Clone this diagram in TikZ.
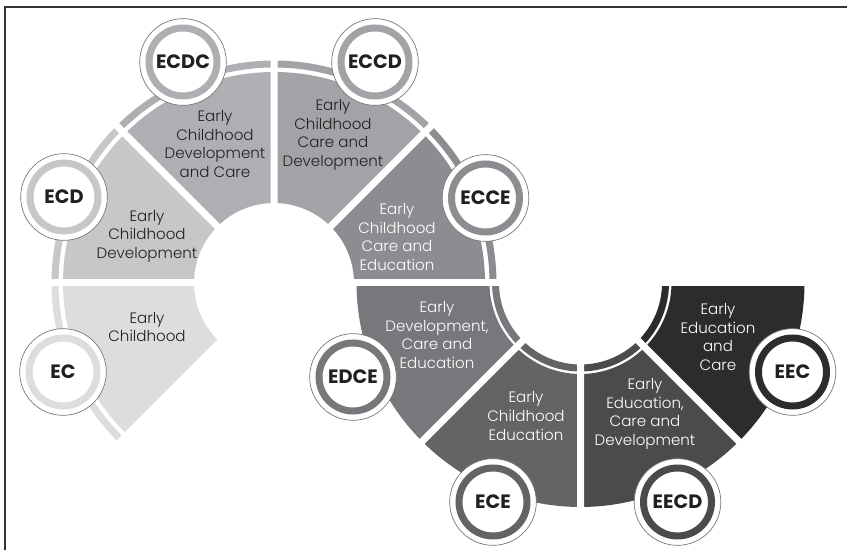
\documentclass[tikz,border=0pt]{standalone}
\usepackage{fontspec}
\setmainfont{Poppins}
\newfontfamily\lightfont{Poppins Light}
\definecolor{cEC}{HTML}{DCDDDF}
\definecolor{cECD}{HTML}{C6C7C9}
\definecolor{cECDC}{HTML}{AEAFB2}
\definecolor{cECCD}{HTML}{A2A3A6}
\definecolor{cECCE}{HTML}{8C8D90}
\definecolor{cEDCE}{HTML}{77787B}
\definecolor{cECE}{HTML}{636466}
\definecolor{cEECD}{HTML}{4B4B4D}
\definecolor{cEEC}{HTML}{2D2C2D}
\definecolor{ink}{HTML}{231F20}
\tikzset{
  band/.style={line width=5.25pt},
  cut/.style={white, line width=5.25pt},
  badge/.style={circle, draw=black!55, line width=0.5pt, fill=white,
    minimum size=65pt, inner sep=0pt, text=ink,
    font=\fontsize{14.5}{14.5}\selectfont\bfseries},
  ring/.style={line width=5.25pt},
  blurb/.style={align=center, text=ink, font=\lightfont\fontsize{11.3}{13.9}\selectfont},
  wblurb/.style={blurb, text=white}
}
\begin{document}
\begin{tikzpicture}[x=0.75pt,y=0.75pt]
\useasboundingbox (0,0) rectangle (847,550);
\coordinate (L) at (274,267);
\coordinate (R) at (580.5,267);

\fill[cEC,shift={(L)}] (180:80) arc[start angle=180,end angle=225,radius=80] -- (225:211) arc[start angle=225,end angle=180,radius=211] -- cycle;
\fill[cECD,shift={(L)}] (135:80) arc[start angle=135,end angle=180,radius=80] -- (180:211) arc[start angle=180,end angle=135,radius=211] -- cycle;
\fill[cECDC,shift={(L)}] (90:80) arc[start angle=90,end angle=135,radius=80] -- (135:211) arc[start angle=135,end angle=90,radius=211] -- cycle;
\fill[cECCD,shift={(L)}] (45:80) arc[start angle=45,end angle=90,radius=80] -- (90:211) arc[start angle=90,end angle=45,radius=211] -- cycle;
\fill[cECCE,shift={(L)}] (0:80) arc[start angle=0,end angle=45,radius=80] -- (45:211) arc[start angle=45,end angle=0,radius=211] -- cycle;

\fill[cEDCE,shift={(R)}] (180:91) arc[start angle=180,end angle=225,radius=91] -- (225:224) arc[start angle=225,end angle=180,radius=224] -- cycle;
\fill[cECE,shift={(R)}] (225:91) arc[start angle=225,end angle=270,radius=91] -- (270:224) arc[start angle=270,end angle=225,radius=224] -- cycle;
\fill[cEECD,shift={(R)}] (270:91) arc[start angle=270,end angle=315,radius=91] -- (315:224) arc[start angle=315,end angle=270,radius=224] -- cycle;
\fill[cEEC,shift={(R)}] (315:91) arc[start angle=315,end angle=360,radius=91] -- (360:224) arc[start angle=360,end angle=315,radius=224] -- cycle;

\draw[band,cEC,shift={(L)}] (180:219) arc[start angle=180,end angle=225,radius=219];
\draw[band,cECD,shift={(L)}] (135:219) arc[start angle=135,end angle=180,radius=219];
\draw[band,cECDC,shift={(L)}] (90:219) arc[start angle=90,end angle=135,radius=219];
\draw[band,cECCD,shift={(L)}] (45:219) arc[start angle=45,end angle=90,radius=219];
\draw[band,cECCE,shift={(L)}] (0:219) arc[start angle=0,end angle=45,radius=219];

\draw[band,cEDCE,shift={(R)}] (180:85) arc[start angle=180,end angle=225,radius=85];
\draw[band,cECE,shift={(R)}] (225:85) arc[start angle=225,end angle=270,radius=85];
\draw[band,cEECD,shift={(R)}] (270:85) arc[start angle=270,end angle=315,radius=85];
\draw[band,cEEC,shift={(R)}] (315:85) arc[start angle=315,end angle=360,radius=85];

\draw[cut,shift={(L)}] (45:60) -- (45:235) (90:60) -- (90:235) (135:60) -- (135:235);
\draw[cut,shift={(R)}] (225:60) -- (225:235) (270:60) -- (270:235) (315:60) -- (315:235);
\draw[cut] ([xshift=-235*0.75pt]L) -- ([xshift=235*0.75pt]R);

\node[blurb] (tEC) at (147,223) {Early\\Childhood};
\node[blurb] (tECD) at (147,314) {Early\\Childhood\\Development};
\node[blurb] (tECDC) at (215,406) {Early\\Childhood\\Development\\and Care};
\node[blurb] (tECCD) at (333,415) {Early\\Childhood\\Care and\\Development};
\node[wblurb] (tECCE) at (397,313) {Early\\Childhood\\Care and\\Education};
\node[wblurb] (tEDCE) at (437,215) {Early\\Development,\\Care and\\Education};
\node[wblurb] (tECE) at (526,134) {Early\\Childhood\\Education};
\node[wblurb] (tEECD) at (645,136) {Early\\Education,\\Care and\\Development};
\node[wblurb] (tEEC) at (718,213) {Early\\Education\\and\\Care};

\node[badge] (bEC) at (63,178) {EC};
\node[badge] (bECD) at (64,353) {ECD};
\node[badge] (bECDC) at (183,488) {ECDC};
\node[badge] (bECCD) at (375,488) {ECCD};
\node[badge] (bECCE) at (485.5,352) {ECCE};
\node[badge] (bEDCE) at (353,173) {EDCE};
\node[badge] (bECE) at (493,48) {ECE};
\node[badge] (bEECD) at (677.5,48) {EECD};
\node[badge] (bEEC) at (792.5,178) {EEC};
\draw[ring,cEC] (bEC.center) circle[radius=34];
\draw[ring,cECD] (bECD.center) circle[radius=34];
\draw[ring,cECDC] (bECDC.center) circle[radius=34];
\draw[ring,cECCD] (bECCD.center) circle[radius=34];
\draw[ring,cECCE] (bECCE.center) circle[radius=34];
\draw[ring,cEDCE] (bEDCE.center) circle[radius=34];
\draw[ring,cECE] (bECE.center) circle[radius=34];
\draw[ring,cEECD] (bEECD.center) circle[radius=34];
\draw[ring,cEEC] (bEEC.center) circle[radius=34];

\draw[black!80,line width=1.1pt] (5,0) -- (5,543) -- (847,543);
\end{tikzpicture}
\end{document}
